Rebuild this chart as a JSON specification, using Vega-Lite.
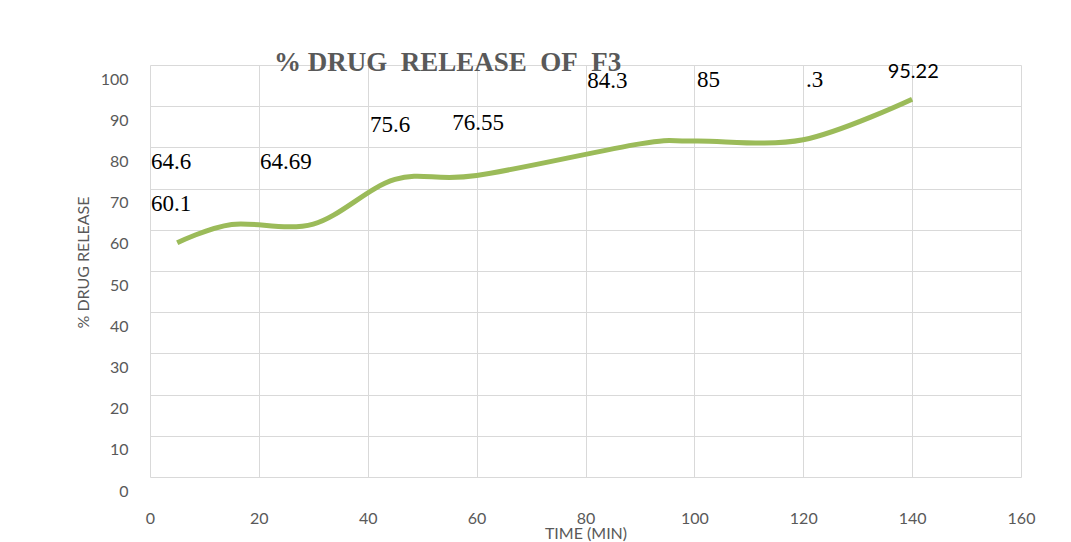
{
  "$schema": "https://vega.github.io/schema/vega-lite/v6.json",
  "autosize": {"type": "none"},
  "padding": {"left": 150, "top": 65, "right": 50, "bottom": 65},
  "width": 871,
  "height": 412,
  "background": "white",
  "title": {
    "text": "% DRUG\u00a0 RELEASE\u00a0 OF\u00a0 F3",
    "font": "Liberation Serif",
    "fontSize": 27,
    "fontWeight": "bold",
    "color": "#595959",
    "anchor": "start",
    "frame": "group",
    "baseline": "alphabetic",
    "offset": 0,
    "dx": 124,
    "dy": 36
  },
  "datasets": {
    "series": [
      {"time": 5, "release": 60.1},
      {"time": 15, "release": 64.6},
      {"time": 30, "release": 64.69},
      {"time": 45, "release": 75.6},
      {"time": 60, "release": 76.55},
      {"time": 90, "release": 84.3},
      {"time": 100, "release": 85},
      {"time": 120, "release": 85.3},
      {"time": 140, "release": 95.22}
    ],
    "notes": [
      {"label": "64.6", "at_time": 0.2, "at_level": 79.8},
      {"label": "60.1", "at_time": 0.2, "at_level": 69.6},
      {"label": "64.69", "at_time": 20.2, "at_level": 79.8},
      {"label": "75.6", "at_time": 40.4, "at_level": 88.8},
      {"label": "76.55", "at_time": 55.5, "at_level": 89.5},
      {"label": "84.3", "at_time": 80.3, "at_level": 99.8},
      {"label": "85", "at_time": 100.5, "at_level": 99.9},
      {"label": ".3", "at_time": 120.5, "at_level": 99.9},
      {"label": "95.22", "at_time": 140.2, "at_level": 101.9}
    ]
  },
  "layer": [
    {
      "data": {"name": "series"},
      "mark": {"type": "point", "opacity": 0},
      "encoding": {
        "x": {
          "field": "time",
          "type": "quantitative",
          "title": "TIME (MIN)",
          "scale": {"domain": [0, 160], "nice": false},
          "axis": {
            "values": [0, 20, 40, 60, 80, 100, 120, 140, 160],
            "labelPadding": 33,
            "labelFlush": false,
            "titleX": 435.5,
            "titleY": 61,
            "titleBaseline": "alphabetic",
            "titleAlign": "center"
          }
        },
        "y": {
          "field": "release",
          "type": "quantitative",
          "title": "% DRUG RELEASE",
          "scale": {"domain": [0, 100], "nice": false},
          "axis": {
            "orient": "left",
            "values": [0, 10, 20, 30, 40, 50, 60, 70, 80, 90, 100],
            "labelPadding": 22,
            "labelOffset": 14,
            "titleX": -67,
            "titleY": 197,
            "titleAngle": -90,
            "titleAlign": "center",
            "titleBaseline": "middle"
          }
        }
      }
    },
    {
      "layer": [
        {
          "data": {"name": "series"},
          "mark": {"type": "line", "interpolate": "cardinal", "tension": 0, "color": "#9BBB59", "strokeWidth": 5},
          "encoding": {
            "x": {"field": "time", "type": "quantitative", "title": "TIME (MIN)"},
            "y": {
              "field": "release",
              "type": "quantitative",
              "scale": {"domain": [2.8, 103.6], "nice": false, "zero": false},
              "axis": null
            }
          }
        },
        {
          "data": {"name": "notes"},
          "transform": [{"filter": "datum.label !== '95.22'"}],
          "mark": {"type": "text", "align": "left", "baseline": "middle", "font": "Liberation Serif", "fontSize": 23, "color": "#000000"},
          "encoding": {
            "x": {"field": "at_time", "type": "quantitative", "title": "TIME (MIN)"},
            "y": {"field": "at_level", "type": "quantitative", "axis": null},
            "text": {"field": "label"}
          }
        },
        {
          "data": {"name": "notes"},
          "transform": [{"filter": "datum.label === '95.22'"}],
          "mark": {"type": "text", "align": "center", "baseline": "middle", "font": "Lato", "fontSize": 20, "color": "#000000"},
          "encoding": {
            "x": {"field": "at_time", "type": "quantitative", "title": "TIME (MIN)"},
            "y": {"field": "at_level", "type": "quantitative", "axis": null},
            "text": {"field": "label"}
          }
        }
      ]
    }
  ],
  "resolve": {"scale": {"y": "independent"}},
  "config": {
    "view": {"stroke": null},
    "axis": {
      "grid": true,
      "gridColor": "#D9D9D9",
      "gridWidth": 1,
      "domain": false,
      "ticks": false,
      "labelFont": "Lato",
      "labelFontSize": 16,
      "labelColor": "#595959",
      "titleFont": "Lato",
      "titleFontSize": 16,
      "titleFontWeight": "normal",
      "titleColor": "#595959"
    }
  }
}
